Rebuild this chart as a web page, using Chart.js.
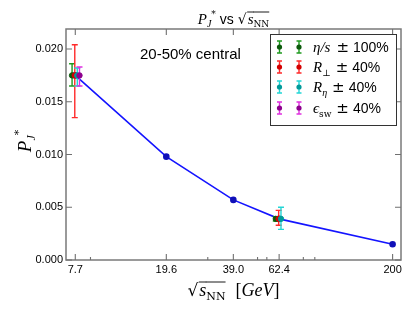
<!DOCTYPE html>
<html><head><meta charset="utf-8">
<script src="https://cdn.jsdelivr.net/npm/chart.js@4"></script>
<style>html,body{margin:0;padding:0;background:#fff}#c{display:block}</style>
</head><body>
<canvas id="c" width="415" height="313"></canvas>
<script>
// ---- data ----
const energies = [7.7, 19.6, 39.0, 62.4, 200];
const xTickLabels = ['7.7', '19.6', '39.0', '62.4', '200'];
const pjCentral = [0.0175, 0.0098, 0.0057, 0.0039, 0.0015];
const yTicks = [0, 0.005, 0.010, 0.015, 0.020];
const minorXTicks = [9, 30, 50, 55, 80, 90];

// variations (x slightly shifted for visibility)
const etaX = [7.45, 60.3];   const etaY = [0.0175, 0.0039];  const etaLo = [0.0165, 0.0037]; const etaHi = [0.0186, 0.0041];
const rperpX = [7.66, 62.1]; const rperpY = [0.0175, 0.0039]; const rperpLo = [0.0135, 0.0033]; const rperpHi = [0.0204, 0.0047];
const retaX = [7.86, 63.6];  const retaY = [0.0175, 0.0039];  const retaLo = [0.0165, 0.0029]; const retaHi = [0.0182, 0.0050];
const eswX = [8.04];         const eswY = [0.0175];           const eswLo = [0.0165];          const eswHi = [0.0183];

const SERIF = '"DejaVu Serif", "Liberation Serif", serif';
const SERIFI = '"Liberation Serif", "DejaVu Serif", serif';
const SANS = '"Liberation Sans", Arial, sans-serif';

function pts(xs, ys) { return xs.map((x, i) => ({x: x, y: ys[i]})); }

const groups = [
  {name:'eta', x:etaX, y:etaY, lo:etaLo, hi:etaHi, bar:'#1f9a1f', fill:'#0b5a0b'},
  {name:'rperp', x:rperpX, y:rperpY, lo:rperpLo, hi:rperpHi, bar:'#ff2a2a', fill:'#d40000'},
  {name:'reta', x:retaX, y:retaY, lo:retaLo, hi:retaHi, bar:'#22d6d6', fill:'#009a9a'},
  {name:'esw', x:eswX, y:eswY, lo:eswLo, hi:eswHi, bar:'#e030e0', fill:'#8e008e'}
];

const datasets = [{
  data: pts(energies, pjCentral),
  borderColor: '#1414ff', borderWidth: 1.6,
  pointRadius: 2.5, pointBackgroundColor: '#1010b8', pointBorderColor: '#1010b8',
  showLine: true, order: 10, tension: 0
}];
groups.forEach((g, k) => {
  datasets.push({
    data: pts(g.x, g.y), err: {lo: g.lo, hi: g.hi, color: g.bar},
    showLine: false, pointRadius: 2.7, pointBackgroundColor: g.fill, pointBorderColor: g.fill,
    order: 5 - k
  });
});

function rich(ctx, segs, x, y, align) {
  let w = 0;
  segs.forEach(s => { ctx.font = s.f; s.w = ctx.measureText(s.t).width; w += s.w + (s.gap || 0); });
  let cx = align === 'center' ? x - w / 2 : x;
  segs.forEach(s => {
    ctx.font = s.f;
    ctx.fillText(s.t, cx, y + (s.dy || 0));
    if (s.over !== undefined) {
      ctx.beginPath(); ctx.lineWidth = 0.9;
      ctx.moveTo(cx - 0.5, y + s.over); ctx.lineTo(cx + s.w + (s.ogap || 0), y + s.over); ctx.stroke();
    }
    cx += s.w + (s.gap || 0);
  });
}

const errPlugin = {
  id: 'errbars',
  beforeDatasetDraw(chart, args) {
    const ds = chart.data.datasets[args.index];
    if (!ds.err) return;
    const ctx = chart.ctx, xs = chart.scales.x, ys = chart.scales.y;
    ctx.save();
    ctx.strokeStyle = ds.err.color; ctx.lineWidth = 1.4;
    ds.data.forEach((p, i) => {
      const px = xs.getPixelForValue(p.x);
      const y1 = ys.getPixelForValue(ds.err.lo[i]), y2 = ys.getPixelForValue(ds.err.hi[i]);
      ctx.beginPath();
      ctx.moveTo(px, y1); ctx.lineTo(px, y2);
      ctx.moveTo(px - 3, y1); ctx.lineTo(px + 3, y1);
      ctx.moveTo(px - 3, y2); ctx.lineTo(px + 3, y2);
      ctx.stroke();
    });
    ctx.restore();
  }
};

const decoPlugin = {
  id: 'deco',
  afterDraw(chart) {
    const ctx = chart.ctx, a = chart.chartArea, xs = chart.scales.x, ys = chart.scales.y;
    ctx.save();
    // frame
    ctx.strokeStyle = '#7a7a7a'; ctx.lineWidth = 1.5;
    ctx.strokeRect(a.left, a.top, a.right - a.left, a.bottom - a.top);
    // ticks
    ctx.lineWidth = 1.1; ctx.strokeStyle = '#707070';
    ctx.beginPath();
    yTicks.forEach(v => {
      const py = ys.getPixelForValue(v);
      ctx.moveTo(a.left, py); ctx.lineTo(a.left + 6, py);
      ctx.moveTo(a.right, py); ctx.lineTo(a.right - 6, py);
    });
    energies.forEach(v => {
      const px = xs.getPixelForValue(v);
      ctx.moveTo(px, a.bottom); ctx.lineTo(px, a.bottom - 6);
      ctx.moveTo(px, a.top); ctx.lineTo(px, a.top + 6);
    });
    minorXTicks.forEach(v => {
      const px = xs.getPixelForValue(v);
      ctx.moveTo(px, a.bottom); ctx.lineTo(px, a.bottom - 3);
    });
    ctx.stroke();

    ctx.fillStyle = '#000'; ctx.strokeStyle = '#000';
    ctx.textBaseline = 'alphabetic';
    const cxm = (a.left + a.right) / 2;
    // title
    rich(ctx, [
      {t:'P', f:'italic 15px ' + SERIFI},
      {t:'J', f:'italic 10px ' + SERIFI, dy:3},
      {t:'*', f:'9px ' + SERIF, dy:-7, gap:4},
      {t:'vs ', f:'14px ' + SANS},
      {t:'\u221A', f:'14px ' + SERIF, gap:1},
      {t:'s', f:'italic 15px ' + SERIFI, over:-12},
      {t:'NN', f:'9px ' + SERIF, dy:3, over:-12}
    ], cxm, 24, 'center');
    // x label
    rich(ctx, [
      {t:'\u221A', f:'17px ' + SERIF, gap:1},
      {t:'s', f:'italic 18px ' + SERIFI, over:-14},
      {t:'NN', f:'11px ' + SERIF, dy:4, over:-14, gap:10},
      {t:'[', f:'18px ' + SERIFI},
      {t:'GeV', f:'italic 18px ' + SERIFI},
      {t:']', f:'18px ' + SERIFI}
    ], cxm, 296, 'center');
    // y label
    ctx.save();
    ctx.translate(31, 141); ctx.rotate(-Math.PI / 2);
    rich(ctx, [
      {t:'P', f:'italic 19px ' + SERIFI},
      {t:'J', f:'italic 12px ' + SERIFI, dy:4},
      {t:'*', f:'11px ' + SERIF, dy:-9}
    ], 0, 0, 'center');
    ctx.restore();
    // annotation
    ctx.font = '15px ' + SANS;
    ctx.fillText('20-50% central', 140, 59);
    // legend
    const L = {x:270, y:34, w:126, h:91};
    ctx.fillStyle = '#fff'; ctx.fillRect(L.x, L.y, L.w, L.h);
    ctx.strokeStyle = '#333'; ctx.lineWidth = 1; ctx.strokeRect(L.x + 0.5, L.y + 0.5, L.w, L.h);
    const rows = [
      [{t:'\u03B7/s', f:'italic 15px ' + SERIFI, gap:6}, {t:'\u00B1', f:'15px ' + SERIF, gap:4}, {t:'100%', f:'14px ' + SANS}],
      [{t:'R', f:'italic 15px ' + SERIFI}, {t:'\u22A5', f:'9px ' + SERIF, dy:4, gap:5}, {t:'\u00B1', f:'15px ' + SERIF, gap:4}, {t:'40%', f:'14px ' + SANS}],
      [{t:'R', f:'italic 15px ' + SERIFI}, {t:'\u03B7', f:'italic 10px ' + SERIFI, dy:4, gap:5}, {t:'\u00B1', f:'15px ' + SERIF, gap:4}, {t:'40%', f:'14px ' + SANS}],
      [{t:'\u03F5', f:'italic 15px ' + SERIFI}, {t:'sw', f:'9px ' + SERIF, dy:4, gap:5}, {t:'\u00B1', f:'15px ' + SERIF, gap:4}, {t:'40%', f:'14px ' + SANS}]
    ];
    const rowY = [47, 67, 87, 108];
    groups.forEach((g, k) => {
      const yy = rowY[k];
      [279.5, 299].forEach(mx => {
        ctx.strokeStyle = g.bar; ctx.lineWidth = 1.4;
        ctx.beginPath();
        ctx.moveTo(mx, yy - 6); ctx.lineTo(mx, yy + 6);
        ctx.moveTo(mx - 2.5, yy - 6); ctx.lineTo(mx + 2.5, yy - 6);
        ctx.moveTo(mx - 2.5, yy + 6); ctx.lineTo(mx + 2.5, yy + 6);
        ctx.stroke();
        ctx.fillStyle = g.fill;
        ctx.beginPath(); ctx.arc(mx, yy, 2.6, 0, Math.PI * 2); ctx.fill();
      });
      ctx.fillStyle = '#000';
      rich(ctx, rows[k], 313, yy + 5, 'left');
    });
    ctx.restore();
  }
};

new Chart(document.getElementById('c'), {
  type: 'line',
  data: {datasets: datasets},
  plugins: [errPlugin, decoPlugin],
  options: {
    responsive: false, animation: false, devicePixelRatio: 1,
    layout: {padding: {top: 29, right: 14, left: 0, bottom: 0}},
    plugins: {legend: {display: false}, tooltip: {enabled: false}, title: {display: false}},
    scales: {
      x: {
        type: 'logarithmic', min: 7, max: 218,
        afterBuildTicks: s => { s.ticks = energies.map(v => ({value: v})); },
        afterFit: s => { s.height = 53; },
        grid: {display: false, drawTicks: false}, border: {display: false},
        ticks: {autoSkip: false, maxRotation: 0, padding: 3, color: '#000',
          font: {family: SANS, size: 11},
          callback: (v, i) => xTickLabels[i]}
      },
      y: {
        type: 'linear', min: 0, max: 0.0219,
        afterBuildTicks: s => { s.ticks = yTicks.map(v => ({value: v})); },
        afterFit: s => { s.width = 66; },
        grid: {display: false, drawTicks: false}, border: {display: false},
        ticks: {padding: 3, color: '#000', font: {family: SANS, size: 11},
          callback: v => Number(v).toFixed(3)}
      }
    }
  }
});
</script>
</body></html>
